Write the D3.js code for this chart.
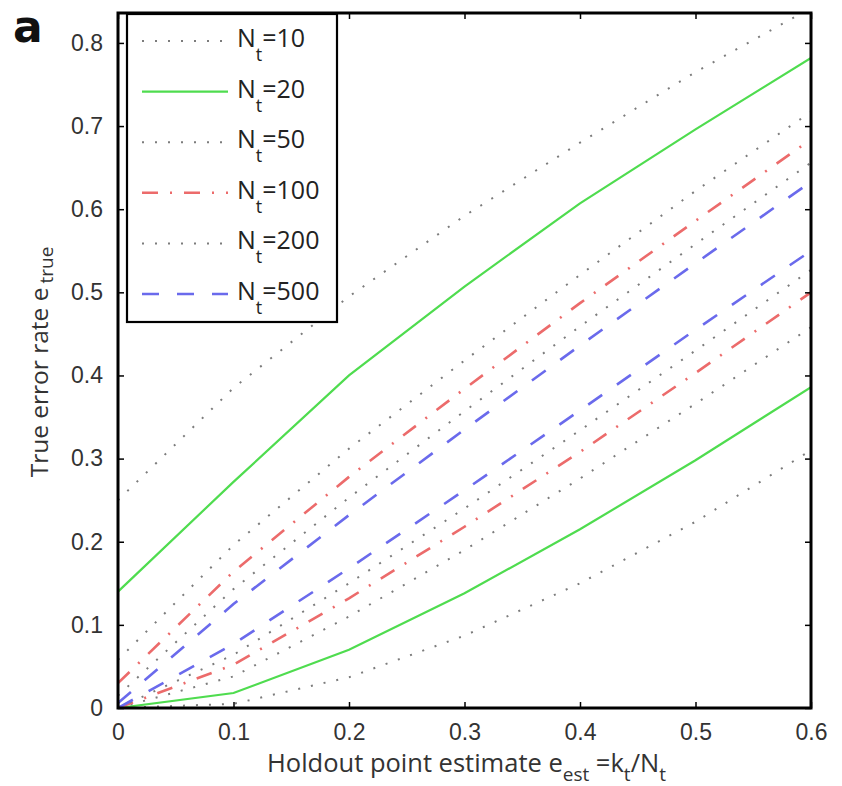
<!DOCTYPE html>
<html>
<head>
<meta charset="utf-8">
<script src="https://cdn.jsdelivr.net/npm/d3@7"></script>
<style>
  body { margin: 0; background: #fff; }
  svg { font-family: 'Open Sans', 'Noto Sans', sans-serif; }
  .axis text { font-size: 23px; fill: #333; }
  .axis line { stroke: #000; stroke-width: 1.5; }
  .axis .domain { display: none; }
</style>
</head>
<body>
<svg id="chart"></svg>
<script>
// Holdout estimate on the x axis, bounds for the true error rate per test set size
const estimates = [0, 0.1, 0.2, 0.3, 0.4, 0.5, 0.6];
const sampleSizes = [10, 20, 50, 100, 200, 500];

const lower10 = [0, 0.005, 0.037, 0.087, 0.150, 0.224, 0.310];
const upper10 = [0.250, 0.385, 0.495, 0.592, 0.680, 0.765, 0.842];
const lower20 = [0, 0.018, 0.070, 0.138, 0.215, 0.298, 0.386];
const upper20 = [0.140, 0.272, 0.400, 0.507, 0.607, 0.696, 0.782];
const lower50 = [0, 0.038, 0.110, 0.190, 0.276, 0.366, 0.458];
const upper50 = [0.058, 0.196, 0.312, 0.418, 0.521, 0.622, 0.717];
const lower100 = [0, 0.052, 0.132, 0.218, 0.308, 0.403, 0.500];
const upper100 = [0.030, 0.164, 0.278, 0.384, 0.487, 0.586, 0.684];
const lower200 = [0, 0.064, 0.150, 0.240, 0.334, 0.430, 0.527];
const upper200 = [0.015, 0.143, 0.253, 0.357, 0.459, 0.558, 0.656];
const lower500 = [0, 0.077, 0.168, 0.262, 0.358, 0.455, 0.550];
const upper500 = [0.006, 0.125, 0.232, 0.335, 0.436, 0.535, 0.633];

const xTicks = [0, 0.1, 0.2, 0.3, 0.4, 0.5, 0.6];
const yTicks = [0, 0.1, 0.2, 0.3, 0.4, 0.5, 0.6, 0.7, 0.8];

class BoundsChart {
  constructor(_config) {
    this.config = {
      parentElement: _config.parentElement,
      containerWidth: 842,
      containerHeight: 786,
      margin: {
        top: 13, right: 31, bottom: 78, left: 118,
      },
      yMax: 0.836,
    };
    this.series = [
      { n: 10, lower: lower10, upper: upper10, color: '#7c7c7c', width: 2, dash: '2,11' },
      { n: 20, lower: lower20, upper: upper20, color: '#4fdc4f', width: 2.2, dash: null },
      { n: 50, lower: lower50, upper: upper50, color: '#7c7c7c', width: 2, dash: '2,11' },
      { n: 100, lower: lower100, upper: upper100, color: '#ec6b6b', width: 2.6, dash: '16,12,2,12' },
      { n: 200, lower: lower200, upper: upper200, color: '#7c7c7c', width: 2, dash: '2,11' },
      { n: 500, lower: lower500, upper: upper500, color: '#6a6aec', width: 2.6, dash: '17,18' },
    ];
    this.initVis();
  }

  initVis() {
    const vis = this;

    vis.width = vis.config.containerWidth - vis.config.margin.left - vis.config.margin.right;
    vis.height = vis.config.containerHeight - vis.config.margin.top - vis.config.margin.bottom;

    vis.xScale = d3.scaleLinear()
      .domain([0, 0.6])
      .range([0, vis.width]);

    vis.yScale = d3.scaleLinear()
      .domain([0, vis.config.yMax])
      .range([vis.height, 0]);

    vis.svg = d3.select(vis.config.parentElement)
      .attr('width', vis.config.containerWidth)
      .attr('height', vis.config.containerHeight);

    vis.chart = vis.svg.append('g')
      .attr('transform', `translate(${vis.config.margin.left},${vis.config.margin.top})`);

    vis.chart.append('clipPath')
      .attr('id', 'plot-clip')
      .append('rect')
      .attr('width', vis.width)
      .attr('height', vis.height);

    vis.line = d3.line()
      .x((d) => vis.xScale(d[0]))
      .y((d) => vis.yScale(d[1]));

    vis.renderVis();
  }

  renderVis() {
    const vis = this;

    // one path per bound, lower and upper share the style of their N_t
    const paths = [];
    vis.series.forEach((s) => {
      paths.push({ s, pts: estimates.map((e, i) => [e, s.lower[i]]) });
      paths.push({ s, pts: estimates.map((e, i) => [e, s.upper[i]]) });
    });

    vis.chart.append('g')
      .attr('clip-path', 'url(#plot-clip)')
      .selectAll('path')
      .data(paths)
      .join('path')
      .attr('d', (d) => vis.line(d.pts))
      .attr('fill', 'none')
      .attr('stroke', (d) => d.s.color)
      .attr('stroke-width', (d) => d.s.width)
      .attr('stroke-dasharray', (d) => d.s.dash);

    vis.renderAxes();
    vis.renderLegend();
    vis.renderLabels();
  }

  renderAxes() {
    const vis = this;

    vis.chart.append('g')
      .attr('class', 'axis x-axis')
      .attr('transform', `translate(0,${vis.height})`)
      .call(d3.axisBottom(vis.xScale).tickValues(xTicks).tickFormat(d3.format('~g'))
        .tickSize(-6).tickPadding(16));

    vis.chart.append('g')
      .attr('class', 'axis')
      .call(d3.axisTop(vis.xScale).tickValues(xTicks).tickFormat('').tickSize(-6));

    vis.chart.append('g')
      .attr('class', 'axis y-axis')
      .call(d3.axisLeft(vis.yScale).tickValues(yTicks).tickFormat(d3.format('~g'))
        .tickSize(-6).tickPadding(15));

    vis.chart.append('g')
      .attr('class', 'axis')
      .attr('transform', `translate(${vis.width},0)`)
      .call(d3.axisRight(vis.yScale).tickValues(yTicks).tickFormat('').tickSize(-6));

    vis.chart.append('rect')
      .attr('width', vis.width)
      .attr('height', vis.height)
      .attr('fill', 'none')
      .attr('stroke', '#000')
      .attr('stroke-width', 3);
  }

  renderLegend() {
    const vis = this;
    const lx = 127 - vis.config.margin.left;
    const ly = 14 - vis.config.margin.top;
    const rowH = 50.6;

    const legend = vis.chart.append('g').attr('class', 'legend');

    legend.append('rect')
      .attr('x', lx)
      .attr('y', ly)
      .attr('width', 210)
      .attr('height', 308)
      .attr('fill', '#fff')
      .attr('stroke', '#000')
      .attr('stroke-width', 2.2);

    const rows = legend.selectAll('.legend-row')
      .data(vis.series)
      .join('g')
      .attr('class', 'legend-row')
      .attr('transform', (d, i) => `translate(${lx},${ly + 27 + i * rowH})`);

    rows.append('line')
      .attr('x1', 15)
      .attr('x2', 101)
      .attr('stroke', (d) => d.color)
      .attr('stroke-width', (d) => d.width)
      .attr('stroke-dasharray', (d) => d.dash);

    const label = rows.append('text')
      .attr('x', 110)
      .attr('y', 6)
      .style('font-size', '25px')
      .attr('fill', '#222');
    label.append('tspan').text('N');
    label.append('tspan').attr('dy', 14).style('font-size', '18px').text('t');
    label.append('tspan').attr('dy', -14).text((d) => `=${d.n}`);
  }

  renderLabels() {
    const vis = this;

    const xl = vis.svg.append('text')
      .attr('x', vis.config.margin.left + vis.width / 2 + 2)
      .attr('y', 772)
      .attr('text-anchor', 'middle')
      .style('font-size', '25.5px')
      .attr('fill', '#333');
    xl.append('tspan').text('Holdout point estimate e');
    xl.append('tspan').attr('dy', 9).style('font-size', '19px').text('est');
    xl.append('tspan').attr('dy', -9).text(' =k');
    xl.append('tspan').attr('dy', 9).style('font-size', '19px').text('t');
    xl.append('tspan').attr('dy', -9).text('/N');
    xl.append('tspan').attr('dy', 9).style('font-size', '19px').text('t');

    const yl = vis.svg.append('text')
      .attr('transform', 'translate(48,362) rotate(-90)')
      .attr('text-anchor', 'middle')
      .style('font-size', '24.5px')
      .attr('fill', '#333');
    yl.append('tspan').text('True error rate e');
    yl.append('tspan').attr('dx', 4).attr('dy', 5).style('font-size', '19px').text('true');

    vis.svg.append('text')
      .attr('x', 13)
      .attr('y', 42)
      .style('font-family', "'DejaVu Sans', sans-serif")
      .style('font-weight', 'bold')
      .style('font-size', '44px')
      .attr('fill', '#111')
      .text('a');
  }
}

new BoundsChart({ parentElement: '#chart' });
</script>
</body>
</html>
